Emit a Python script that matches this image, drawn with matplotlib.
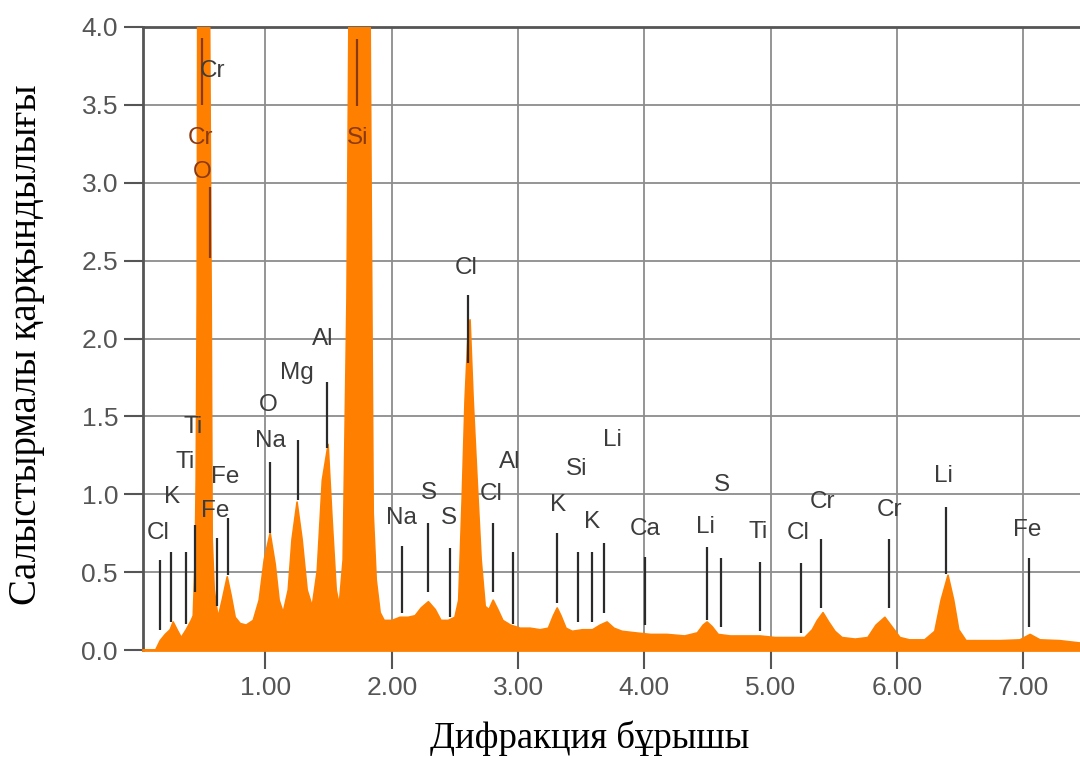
import numpy as np
import matplotlib
matplotlib.use("Agg")
import matplotlib.pyplot as plt

# spectrum (x in axis units, y = relative intensity)
spec_x = [0.03, 0.13, 0.166, 0.206, 0.245, 0.269, 0.30, 0.333, 0.372, 0.412,
          0.428, 0.443, 0.451, 0.459, 0.463, 0.507, 0.558, 0.570, 0.578, 0.594,
          0.610, 0.625, 0.657, 0.697, 0.728, 0.760, 0.80, 0.847, 0.903, 0.95,
          0.99, 1.037, 1.077, 1.108, 1.14, 1.18, 1.21, 1.25, 1.29, 1.33,
          1.37, 1.41, 1.45, 1.496, 1.528, 1.56, 1.584, 1.615, 1.645, 1.66,
          1.742, 1.829, 1.837, 1.853, 1.877, 1.908, 1.94, 2.003, 2.066, 2.13,
          2.185, 2.233, 2.29, 2.344, 2.39, 2.447, 2.50, 2.53, 2.557, 2.58,
          2.605, 2.62, 2.645, 2.676, 2.708, 2.74, 2.77, 2.803, 2.84, 2.88,
          2.94, 3.017, 3.096, 3.175, 3.24, 3.28, 3.31, 3.34, 3.38, 3.43,
          3.51, 3.59, 3.65, 3.705, 3.76, 3.824, 3.93, 4.05, 4.18, 4.32,
          4.42, 4.466, 4.497, 4.537, 4.585, 4.68, 4.80, 4.917, 5.036, 5.154,
          5.27, 5.33, 5.37, 5.415, 5.46, 5.51, 5.566, 5.67, 5.77, 5.835,
          5.905, 5.97, 6.025, 6.10, 6.22, 6.30, 6.35, 6.405, 6.45, 6.49,
          6.548, 6.66, 6.82, 6.975, 7.055, 7.134, 7.29, 7.45]
spec_y = [0.0, 0.0, 0.06, 0.10, 0.13, 0.18, 0.13, 0.08, 0.13, 0.19,
          0.22, 0.58, 1.09, 2.25, 4.0, 9.0, 4.0, 2.25, 0.71, 0.39,
          0.29, 0.21, 0.32, 0.47, 0.35, 0.21, 0.17, 0.16, 0.19, 0.32,
          0.58, 0.75, 0.55, 0.32, 0.24, 0.385, 0.71, 0.95, 0.71, 0.385,
          0.28, 0.51, 1.09, 1.32, 0.83, 0.385, 0.29, 0.58, 2.25, 4.0,
          12.0, 4.0, 2.89, 0.88, 0.45, 0.24, 0.19, 0.19, 0.21, 0.21,
          0.22, 0.27, 0.31, 0.26, 0.19, 0.19, 0.21, 0.32, 0.96, 1.6,
          2.05, 2.12, 1.6, 1.09, 0.58, 0.28, 0.26, 0.32, 0.26, 0.19,
          0.16, 0.14, 0.14, 0.13, 0.14, 0.22, 0.27, 0.22, 0.14, 0.12,
          0.13, 0.13, 0.16, 0.18, 0.14, 0.12, 0.11, 0.10, 0.10, 0.09,
          0.11, 0.16, 0.18, 0.15, 0.10, 0.09, 0.09, 0.09, 0.08, 0.08,
          0.08, 0.13, 0.19, 0.24, 0.18, 0.12, 0.08, 0.07, 0.08, 0.16,
          0.21, 0.14, 0.08, 0.065, 0.065, 0.12, 0.32, 0.48, 0.32, 0.13,
          0.06, 0.06, 0.06, 0.065, 0.10, 0.065, 0.06, 0.045]

# element marker lines: position, bottom, top
mark_x = [0.166, 0.253, 0.372, 0.443, 0.618, 0.705, 0.499, 0.562, 1.037, 1.259,
          1.489, 1.726, 2.082, 2.288, 2.462, 2.605, 2.803, 2.961, 3.31, 3.476,
          3.587, 3.68, 4.006, 4.497, 4.608, 4.917, 5.24, 5.40, 5.94, 6.39, 7.047]
mark_lo = [0.13, 0.18, 0.17, 0.37, 0.28, 0.48, 3.50, 2.52, 0.75, 0.96,
           1.30, 3.49, 0.24, 0.37, 0.21, 1.84, 0.37, 0.17, 0.30, 0.18,
           0.18, 0.24, 0.16, 0.19, 0.15, 0.12, 0.11, 0.27, 0.27, 0.49, 0.15]
mark_hi = [0.58, 0.63, 0.63, 0.80, 0.72, 0.85, 3.93, 2.97, 1.21, 1.35,
           1.72, 3.92, 0.67, 0.815, 0.655, 2.28, 0.815, 0.63, 0.75, 0.63,
           0.63, 0.69, 0.60, 0.66, 0.59, 0.565, 0.56, 0.71, 0.71, 0.92, 0.59]

# element labels
lab_text = ["Cl", "K", "Ti", "Ti", "Fe", "Fe", "Cr", "Cr", "O", "O",
            "Na", "Mg", "Al", "Si", "Na", "S", "S", "Cl", "Cl", "Al",
            "K", "Si", "K", "Li", "Ca", "Li", "S", "Ti", "Cl", "Cr",
            "Cr", "Li", "Fe"]
lab_x = [0.15, 0.261, 0.364, 0.428, 0.681, 0.60, 0.578, 0.483, 0.499, 1.021,
         1.037, 1.251, 1.457, 1.726, 2.074, 2.296, 2.454, 2.589, 2.787, 2.937,
         3.317, 3.468, 3.587, 3.745, 4.006, 4.48, 4.616, 4.90, 5.218, 5.408,
         5.938, 6.37, 7.03]
lab_y = [0.75, 0.98, 1.21, 1.43, 1.11, 0.89, 3.72, 3.29, 3.07, 1.57,
         1.34, 1.78, 2.00, 3.29, 0.85, 1.01, 0.85, 2.45, 1.00, 1.21,
         0.93, 1.16, 0.82, 1.35, 0.78, 0.79, 1.06, 0.76, 0.75, 0.95,
         0.90, 1.12, 0.77]

x_ticks = [1, 2, 3, 4, 5, 6, 7]
y_ticks = [0.0, 0.5, 1.0, 1.5, 2.0, 2.5, 3.0, 3.5, 4.0]

orange = "#FF8000"
grid_c = "#8c8c8c"
brown = "#8a3a12"

fig = plt.figure(figsize=(10.8, 7.57), dpi=100)
ax = fig.add_axes([143 / 1080, 1 - 650 / 757, 937 / 1080, 623 / 757])

ax.fill_between(spec_x, spec_y, 0, color=orange, lw=0, zorder=3)
ax.plot(spec_x, spec_y, color=orange, lw=1.2, zorder=3)

for x, lo, hi in zip(mark_x, mark_lo, mark_hi):
    on_peak = np.interp(x, spec_x, spec_y) > hi
    ax.plot([x, x], [lo, hi], color=brown if on_peak else "#2a2a2a",
            lw=1.6, zorder=4, solid_capstyle="butt")

for t, x, y in zip(lab_text, lab_x, lab_y):
    on_peak = np.interp(x, spec_x, spec_y) > y
    ax.text(x, y, t, ha="center", va="center", fontsize=17.5,
            color=brown if on_peak else "#3c3c3c", zorder=5,
            family="Liberation Sans")

ax.set_xlim(0.03, 7.45)
ax.set_ylim(0, 4.0)
ax.set_xticks(x_ticks)
ax.set_xticklabels(["%.2f" % v for v in x_ticks])
ax.set_yticks(y_ticks)
ax.set_yticklabels(["%.1f" % v for v in y_ticks])
ax.tick_params(axis="both", direction="out", length=14, width=1.5,
               color="#555555", labelcolor="#555555", labelsize=19)
ax.tick_params(axis="y", pad=4)
ax.tick_params(axis="x", pad=5)
for lbl in ax.get_xticklabels() + ax.get_yticklabels():
    lbl.set_family("Liberation Sans")

ax.grid(True, color=grid_c, lw=1.3, zorder=1)
ax.set_axisbelow(True)
ax.spines["right"].set_visible(False)
ax.spines["top"].set_color("#555555")
ax.spines["top"].set_linewidth(2)
ax.spines["left"].set_color("#555555")
ax.spines["left"].set_linewidth(2)
ax.spines["bottom"].set_color(orange)
ax.spines["bottom"].set_linewidth(2)

fig.text(590 / 1080, 1 - 738 / 757, "Дифракция бұрышы", ha="center", va="center",
         fontsize=26.5, family="Liberation Serif", color="black")
fig.text(27 / 1080, 1 - 345 / 757, "Салыстырмалы қарқындылығы", ha="center",
         va="center", rotation=90, fontsize=28, family="Liberation Serif",
         color="black")

fig.savefig("out.png", dpi=100)
